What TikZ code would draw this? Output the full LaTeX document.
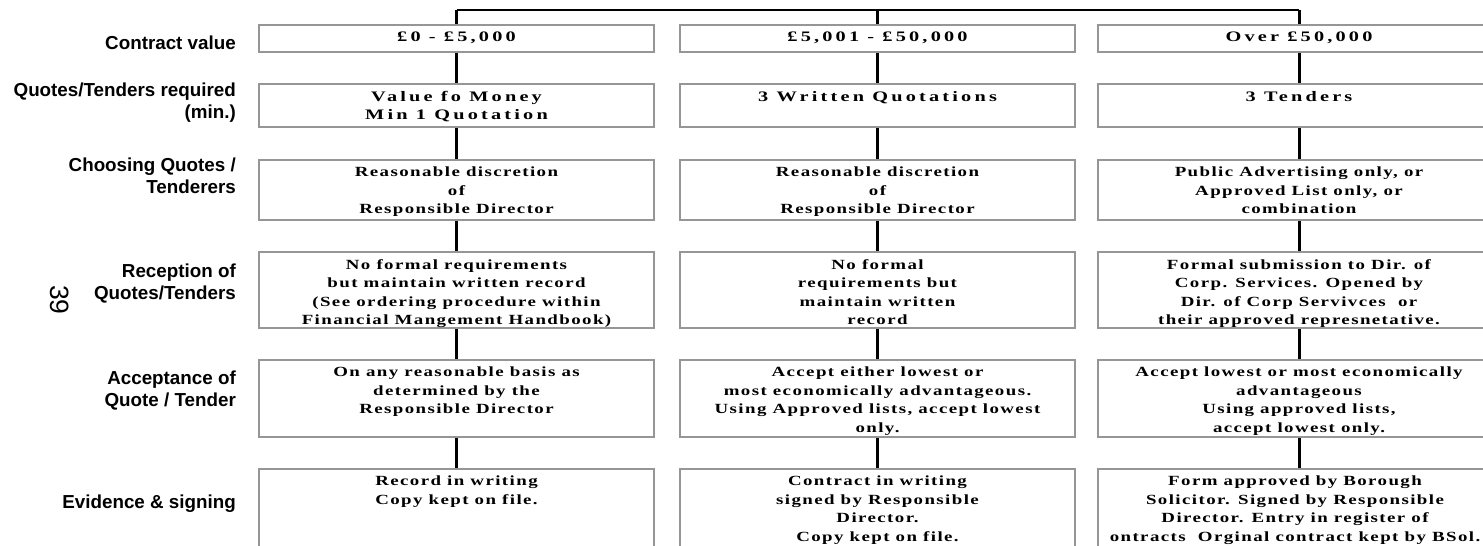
\documentclass[tikz,border=0pt]{standalone}
\usepackage{fontspec}
\usetikzlibrary{positioning}

\newfontfamily\celdafont[LetterSpace=10,FakeStretch=1.35]{Liberation Serif}
\newfontfamily\cabfont[LetterSpace=22,FakeStretch=1.4]{Liberation Serif}
\newfontfamily\etiqfont{Liberation Sans}
\definecolor{borde}{RGB}{150,150,150}

\tikzset{
  caja/.style={draw=borde, line width=2pt, anchor=north, inner sep=0pt},
  texto/.style={align=center, inner sep=0pt, font=\celdafont\bfseries\fontsize{14}{18.5}\selectfont},
  textocab/.style={texto, font=\cabfont\bfseries\fontsize{14.5}{18.5}\selectfont},
  linea/.style={line width=3pt},
  etiqueta/.style={anchor=north east, align=right, inner sep=0pt, font=\etiqfont\bfseries\fontsize{18.8}{22}\selectfont},
}

\begin{document}
\begin{tikzpicture}[x=1pt,y=-1pt]
  \useasboundingbox (0,0) rectangle (1483,546);

  % Cajas: fila/arriba/alto y columna/centro/ancho
  \foreach \r/\arriba/\alto in {1/24/27, 2/83/43, 3/159/60, 4/251/76, 5/359/77, 6/468/100} {
    \foreach \c/\x/\ancho in {1/456.5/395, 2/877.5/395, 3/1299/402} {
      \node[caja, minimum width=\ancho pt, minimum height=\alto pt] (b\r\c) at (\x,\arriba) {};
    }
  }

  % Linea superior
  \coordinate (tronco) at (877.5,10);
  \draw[line width=2pt] (b11.north |- tronco) -- (b13.north |- tronco);
  \foreach \c in {1,2,3} {
    \draw[linea] (b1\c.north |- tronco) -- (b1\c);
  }

  % Lineas entre filas
  \foreach \c in {1,2,3} {
    \foreach \r [evaluate=\r as \s using int(\r+1)] in {1,...,5} {
      \draw[linea] (b\r\c) -- (b\s\c);
    }
  }

  % Etiquetas de filas
  \node[etiqueta] (e1) at (236,36) {Contract value};
  \node[etiqueta] (e2) at (236,83) {Quotes/Tenders required\\(min.)};
  \node[etiqueta] (e3) at (236,158) {Choosing Quotes /\\Tenderers};
  \node[etiqueta] (e4) at (236,264) {Reception of\\Quotes/Tenders};
  \node[etiqueta] (e5) at (236,371) {Acceptance of\\Quote / Tender};
  \node[etiqueta] (e6) at (236,495) {Evidence \& signing};
  \node[rotate=-90, font=\etiqfont\fontsize{26.5}{30}\selectfont] (pag) at (60,300) {39};

  % Textos de las cajas
  \node[textocab, below=8pt of b11.north] (t11) {£0 - £5,000};
  \node[textocab, below=8pt of b12.north] (t12) {£5,001 - £50,000};
  \node[textocab, below=8pt of b13.north] (t13) {Over £50,000};

  \node[textocab, below=8pt of b21.north] (t21) {Value fo Money\\Min 1 Quotation};
  \node[textocab, below=8pt of b22.north] (t22) {3 Written Quotations};
  \node[textocab, below=8pt of b23.north] (t23) {3 Tenders};

  \node[texto, below=8pt of b31.north] (t31) {Reasonable discretion\\of\\Responsible Director};
  \node[texto, below=8pt of b32.north] (t32) {Reasonable discretion\\of\\Responsible Director};
  \node[texto, below=8pt of b33.north] (t33) {Public Advertising only, or\\Approved List only, or\\combination};

  \node[texto, below=8pt of b41.north] (t41) {No formal requirements\\but maintain written record\\(See ordering procedure within\\Financial Mangement Handbook)};
  \node[texto, below=8pt of b42.north] (t42) {No formal\\requirements but\\maintain written\\record};
  \node[texto, below=8pt of b43.north] (t43) {Formal submission to Dir. of\\Corp. Services. Opened by\\Dir. of Corp Servivces\ \ or\\their approved represnetative.};

  \node[texto, below=8pt of b51.north] (t51) {On any reasonable basis as\\determined by the\\Responsible Director};
  \node[texto, below=8pt of b52.north] (t52) {Accept either lowest or\\most economically advantageous.\\Using Approved lists, accept lowest\\only.};
  \node[texto, below=8pt of b53.north] (t53) {Accept lowest or most economically\\advantageous\\Using approved lists,\\accept lowest only.};

  \node[texto, below=8pt of b61.north] (t61) {Record in writing\\Copy kept on file.};
  \node[texto, below=8pt of b62.north] (t62) {Contract in writing\\signed by Responsible\\Director.\\Copy kept on file.};
  \node[texto, below=8pt of b63.north, xshift=-4pt] (t63) {Form approved by Borough\\Solicitor. Signed by Responsible\\Director. Entry in register of\\ontracts\ \ Orginal contract kept by BSol.};

\end{tikzpicture}
\end{document}
